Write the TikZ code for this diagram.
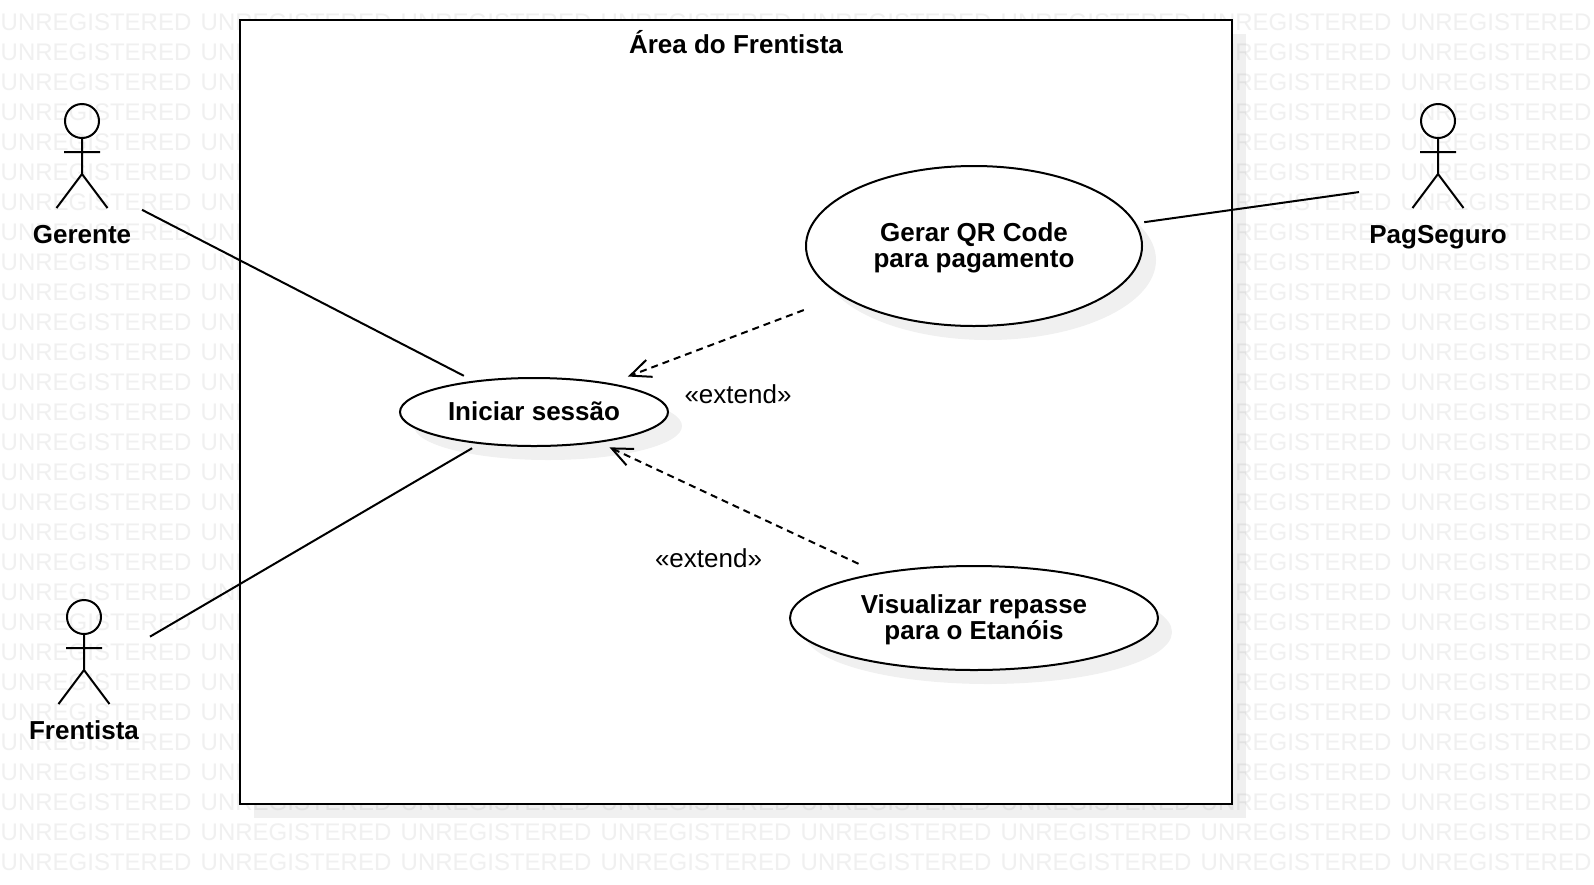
\documentclass[tikz,border=0pt]{standalone}
\usepackage{fontspec}
\setmainfont{Liberation Sans}
\usetikzlibrary{arrows.meta}
\begin{document}
\begin{tikzpicture}[x=1pt,y=-1pt]
  \tikzstyle{watermark}=[anchor=west,inner sep=0pt,text=black!6,font=\fontsize{24}{26}\selectfont]
  \tikzstyle{shade}=[fill=black,opacity=0.06]
  \tikzstyle{outline}=[draw=black,fill=white,line width=2pt]
  \tikzstyle{usecase}=[rectangle,align=center,inner sep=0pt,font=\fontsize{26}{26}\selectfont\bfseries]
  \tikzstyle{actorbox}=[rectangle,inner sep=0pt,outer sep=0pt,minimum height=152pt]
  \tikzstyle{actorname}=[font=\fontsize{26}{26}\selectfont\bfseries,inner sep=0pt]
  \tikzstyle{note}=[font=\fontsize{26}{26}\selectfont,inner sep=0pt]
  \tikzstyle{assoc}=[line width=2pt]
  \tikzstyle{extend}=[line width=2pt,dash pattern=on 7pt off 5pt,shorten >=-2pt,
  -{Straight Barb[length=20.5pt,width=18pt]}]

  \useasboundingbox (0,0) rectangle (1594,884);
  \fill[white] (0,0) rectangle (1594,884);

  \foreach \i in {0,...,7}
    \foreach \j in {0,...,28}
      \node[watermark] (wm-\i-\j) at (\i*200+0.5,\j*30+22) {UNREGISTERED};

  % system boundary
  \fill[shade] (254,34) rectangle (1246,818);
  \node[outline,rectangle,inner sep=0pt,outer sep=0pt,minimum width=992pt,minimum height=784pt]
    (area) at (736,412) {};
  \node[actorname] (areatitle) at (736,42) {Área do Frentista};

  % use cases
  \fill[shade] (548,426) ellipse (134 and 34);
  \fill[shade] (988,260) ellipse (168 and 80);
  \fill[shade] (988,632) ellipse (184 and 52);
  \draw[outline] (534,412) ellipse (134 and 34);
  \draw[outline] (974,246) ellipse (168 and 80);
  \draw[outline] (974,618) ellipse (184 and 52);
  \node[usecase,text depth=2pt,minimum width=272pt,minimum height=72pt] (iniciar) at (534,412) {Iniciar sessão};
  \node[usecase,minimum width=340pt,minimum height=164pt] (qrcode) at (974,246) {\rule{0pt}{23pt}Gerar QR Code\\para pagamento};
  \node[usecase,minimum width=372pt,minimum height=108pt] (repasse) at (974,618) {\rule{0pt}{23pt}Visualizar repasse\\para o Etanóis};

  % actors
  \foreach \name/\who/\x/\y/\w/\c in {gerente/Gerente/82/103/120/179,
    frentista/Frentista/84/599/132/675,pagseguro/PagSeguro/1438/103/158/181} {
    \draw[line width=2pt,shift={(\x,\y)}] (0,18) circle (17)
      (0,35) -- (0,71) (-18,49) -- (18,49)
      (-25.5,105) -- (0,71) -- (25.5,105);
    \node[actorbox,minimum width=\w pt] (\name) at (\x,\c) {};
    \node[actorname,anchor=base] (\name-label) at (\x,\y+140) {\who};
  }

  \draw[assoc] (gerente) -- (iniciar);
  \draw[assoc] (frentista) -- (iniciar);
  \draw[assoc] (qrcode) -- (pagseguro);
  \draw[extend] (qrcode) -- (iniciar);
  \draw[extend] (repasse) -- (iniciar);

  \node[note] (extendqr) at (738,394.5) {«extend»};
  \node[note] (extendrepasse) at (708.5,558) {«extend»};
\end{tikzpicture}
\end{document}
